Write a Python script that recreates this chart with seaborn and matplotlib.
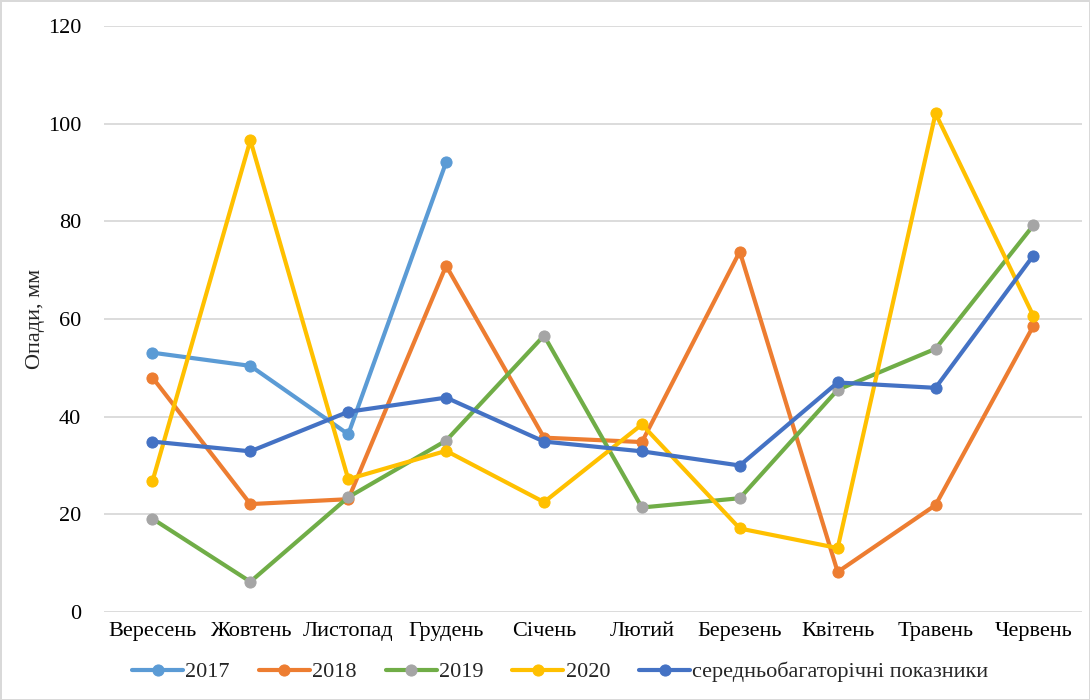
import numpy as np
import pandas as pd
import matplotlib.pyplot as plt
import seaborn as sns

# months (Sep - Jun)
months = ['Вересень', 'Жовтень', 'Листопад', 'Грудень', 'Січень',
          'Лютий', 'Березень', 'Квітень', 'Травень', 'Червень']

y2017 = [53.1, 50.4, 36.4, 92.1, np.nan, np.nan, np.nan, np.nan, np.nan, np.nan]
y2018 = [48.0, 22.1, 23.1, 70.9, 35.7, 34.8, 73.8, 8.2, 21.9, 58.6]
y2019 = [19.1, 6.2, 23.5, 35.1, 56.6, 21.4, 23.3, 45.5, 53.9, 79.2]
y2020 = [26.8, 96.6, 27.2, 33.0, 22.5, 38.4, 17.1, 13.1, 102.1, 60.6]
avg = [34.9, 32.9, 41.0, 43.9, 34.9, 32.9, 30.0, 47.0, 45.9, 73.0]

series = [
    ('2017', y2017, '#5B9BD5', '#5B9BD5'),
    ('2018', y2018, '#ED7D31', '#ED7D31'),
    ('2019', y2019, '#70AD47', '#A5A5A5'),
    ('2020', y2020, '#FFC000', '#FFC000'),
    ('середньобагаторічні показники', avg, '#4472C4', '#4472C4'),
]

sns.set_style('white')
plt.rcParams['font.family'] = ['Liberation Serif', 'DejaVu Serif']
fs = 16

fig = plt.figure(figsize=(10.9, 7), dpi=100, edgecolor='#d9d9d9', linewidth=2)
ax = fig.add_axes([0.095, 0.1257, 0.898, 0.8372])

for name, vals, col, mcol in series:
    df = pd.DataFrame({'month': months, 'value': vals}).dropna()
    sns.lineplot(data=df, x='month', y='value', ax=ax, sort=False, color=col,
                 linewidth=3, marker='o', markersize=8,
                 markerfacecolor=mcol, markeredgecolor=mcol, label=name, legend=False)

ax.set_xlim(-0.5, len(months) - 0.5)
ax.set_ylim(0, 120)
ax.set_yticks(range(0, 121, 20))
ax.grid(axis='y', color='#d9d9d9', linewidth=1.3)
ax.set_axisbelow(True)
for s in ax.spines.values():
    s.set_visible(False)
ax.tick_params(axis='both', length=0, labelsize=fs, colors='#000000')
ax.tick_params(axis='x', pad=7)
ax.tick_params(axis='y', pad=16)
ax.set_xlabel('')
ax.set_ylabel('Опади, мм', fontsize=fs)
ax.yaxis.set_label_coords(-0.06, 0.5)

handles, labels = ax.get_legend_handles_labels()
fig.legend(handles, labels, loc='center', bbox_to_anchor=(0.514, 0.04), ncol=5,
           frameon=False, fontsize=fs, handlelength=2.3, columnspacing=1.3,
           handletextpad=0.1)

plt.savefig('out.png', dpi=100)
